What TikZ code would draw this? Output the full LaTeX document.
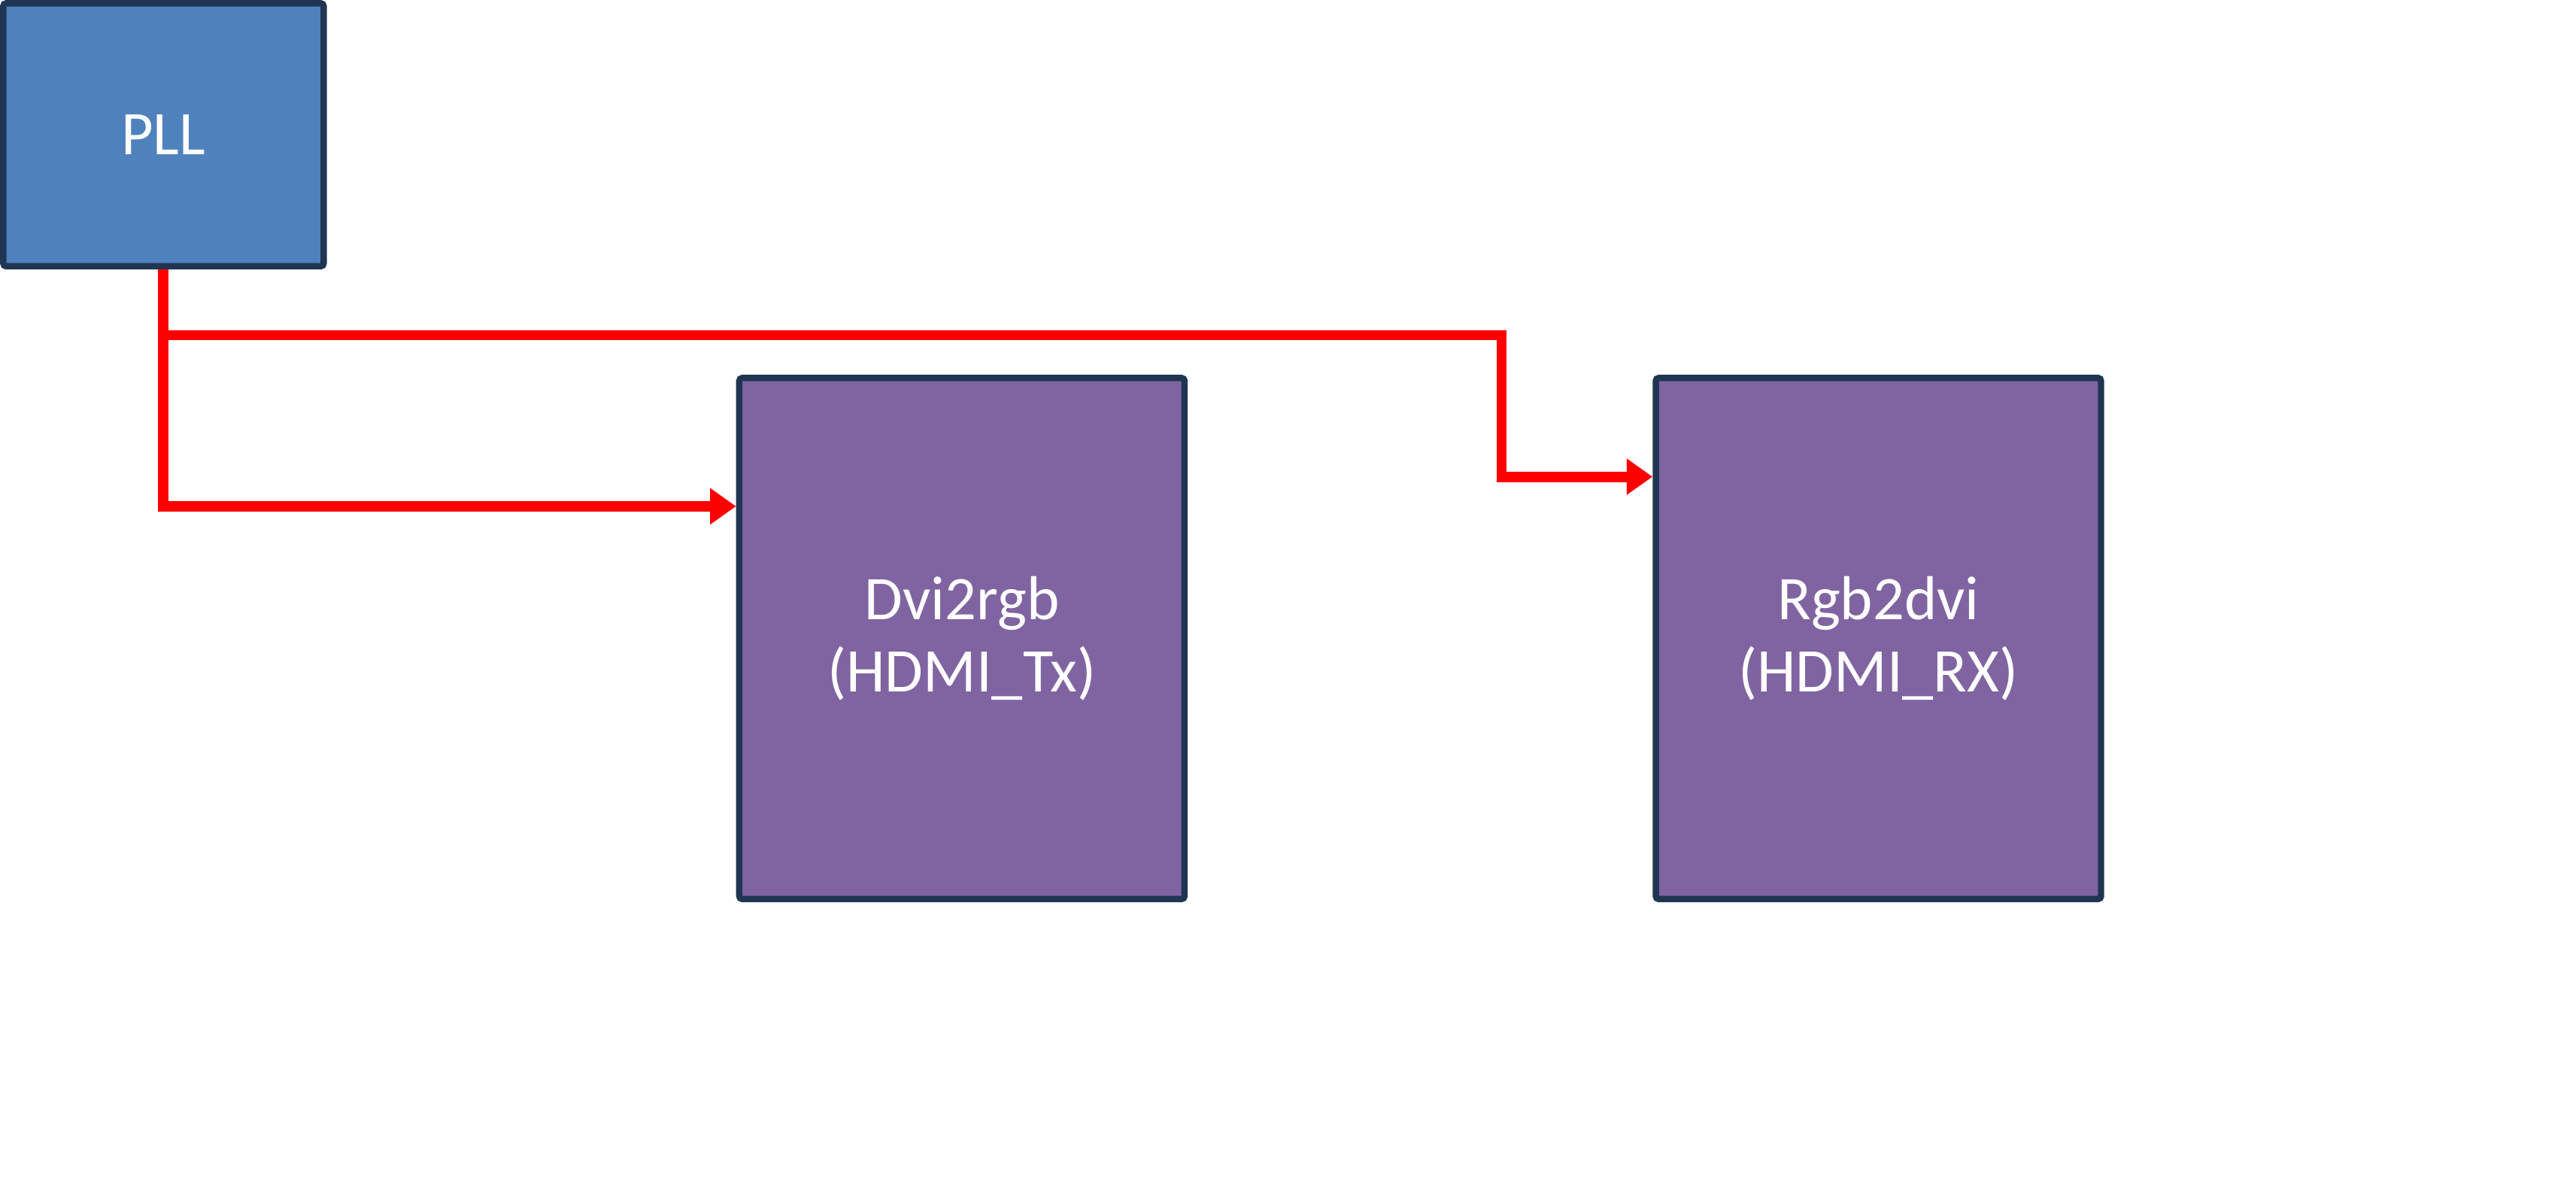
\documentclass[tikz,border=0pt]{standalone}
\usepackage{fontspec}
\setmainfont{Carlito}
\usepackage{xcolor}
\usetikzlibrary{arrows.meta,calc,positioning}
\definecolor{navy}{HTML}{1F3552}
\definecolor{pllblue}{HTML}{4F81BD}
\definecolor{vio}{HTML}{8064A2}

\begin{document}
\begin{tikzpicture}[
  blk/.style={draw=navy,line width=2.2pt,rounded corners=1pt,align=center,text=white,
              font=\fontsize{21.5}{25}\selectfont,fill=#1},
  blk/.default=vio,
  ip/.style={blk,minimum width=5.42cm,minimum height=6.34cm},
  clk/.style={draw=red,line width=3.6pt,-{Triangle[length=9pt,width=12pt]}}]
  \useasboundingbox (0,0) rectangle (31.36,-14.34);
  \node[blk=pllblue,minimum width=3.9cm,minimum height=3.2cm] (pll) at (1.99,-1.64) {PLL};
  \node[ip] (tx) at (11.71,-7.77) {Dvi2rgb\\(HDMI\_Tx)};
  \node[ip,right=5.66cm of tx] (rx) {Rgb2dvi\\(HDMI\_RX)};
  % clock taps
  \coordinate (split) at ($(pll.south)+(0,-0.8)$);
  \coordinate (bend) at ($(split)+(16.29,0)$);
  \coordinate (txin) at ($(tx.north west)+(0,-1.6)$);
  \coordinate (rxin) at ($(rx.north west)+(0,-1.24)$);
  \draw[clk] (pll.south) |- (txin);
  \draw[clk] (split) -- (bend) |- (rxin);
\end{tikzpicture}
\end{document}
